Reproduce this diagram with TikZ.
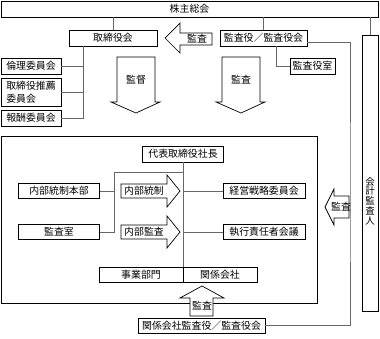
\documentclass[tikz,border=0pt]{standalone}
\usepackage{fontspec}
\setmainfont{Noto Sans CJK JP}
\usepackage{tikz}
\usetikzlibrary{shadows}

\begin{document}
\begin{tikzpicture}[x=1pt,y=-1pt,font=\fontsize{9.9pt}{11pt}\selectfont]

\tikzstyle{box} = [rectangle, draw=black, fill=white, line width=0.7pt, inner sep=0pt, minimum height=16pt, text centered, drop shadow={shadow xshift=0.9pt, shadow yshift=-0.9pt, fill=black, opacity=1}]
\tikzstyle{conn} = [draw=gray!80!black, line width=0.7pt]
\tikzstyle{bigarrow} = [draw=black, fill=white, line width=0.7pt, line join=miter]

\useasboundingbox (0,0) rectangle (380,338);

\node (frame) [box, minimum width=316pt, minimum height=167pt] at (159,219.5) {};

% top part
\node (soukai) [box, minimum width=377pt] at (189.5,9) {株主総会};
\node (torishimari) [box, minimum width=88pt] at (113,38) {取締役会};
\node (kansayaku) [box, minimum width=87pt] at (263.5,38) {監査役／監査役会};
\node (kansayakushitsu) [box, minimum width=45pt] at (312.5,66) {監査役室};
\node (rinri) [box, minimum width=60pt] at (31,66) {倫理委員会};
\node (suisen) [box, minimum width=60pt, minimum height=28pt, align=left, font=\fontsize{9.9pt}{13.5pt}\selectfont] at (31,92) {取締役推薦\\委員会};
\node (housyu) [box, minimum width=60pt] at (31,118) {報酬委員会};
\node (kaikei) [box, minimum width=16pt, minimum height=276pt] at (370,173) {};
\node (kaikeilabel) [align=center, inner sep=0pt, font=\fontsize{9.5pt}{9.8pt}\selectfont] at (370,201) {会\\計\\監\\査\\人};

% inside the frame
\node (daihyo) [box, minimum width=81pt] at (183,154) {代表取締役社長};
\node (naibu) [box, minimum width=81pt, minimum height=15pt] at (59,191) {内部統制本部};
\node (kansashitsu) [box, minimum width=81pt, minimum height=15pt] at (59,232) {監査室};
\node (keiei) [box, minimum width=82pt, minimum height=15pt] at (264,191) {経営戦略委員会};
\node (shikko) [box, minimum width=82pt, minimum height=15pt] at (264,232) {執行責任者会議};
\node (jigyo) [box, minimum width=84pt, minimum height=15pt] at (141,274.5) {事業部門};
\node (kankei) [box, minimum width=74pt, minimum height=15pt] at (220,274.5) {関係会社};
\node (kgkansa) [box, minimum width=127pt, minimum height=15pt] at (201.5,325.5) {関係会社監査役／監査役会};

% connectors
\coordinate (tbus) at ([xshift=-30pt]torishimari.south);
\coordinate (kbus) at ([xshift=12.5pt]kansayaku.south);
\coordinate (kline) at (350,200);
\coordinate (lbus) at (114,172);

\draw [conn] (torishimari.north |- soukai.south) -- (torishimari.north);
\draw [conn] (kansayaku.north |- soukai.south) -- (kansayaku.north);
\draw [conn] (kaikei.north |- soukai.south) -- (kaikei.north);
\draw [conn] (tbus) |- (housyu.east);
\draw [conn] (rinri.east) -| (tbus);
\draw [conn] (suisen.east) -| (tbus);
\draw [conn] (kbus) |- (kansayakushitsu.west);
\draw [conn] ([yshift=-4pt]kansayaku.east) -| (kline) |- (kgkansa.east);
\draw [conn] (daihyo.south) -- (daihyo.south |- kankei.north west);
\draw [conn] (daihyo.south |- lbus) -- (lbus) |- (kansashitsu.east);
\draw [conn] (naibu.east) -- (naibu.east -| lbus);
\draw [conn] (daihyo.south |- keiei.west) -- (keiei.west);
\draw [conn] (daihyo.south |- shikko.west) -- (shikko.west);

% block arrows
\draw [bigarrow] (212,33) -- (180,33) -- (180,23) -- (165,38) -- (180,53) -- (180,45) -- (212,45) -- cycle;
\node (kansa1) at (197,39) {監査};
\draw [bigarrow] (117,57) -- (155,57) -- (155,102) -- (160,102) -- (136,113) -- (111,102) -- (117,102) -- cycle;
\node (kantoku) at (136,80) {監督};
\draw [bigarrow] (222,57) -- (260,57) -- (260,102) -- (265,102) -- (241,113) -- (216,102) -- (222,102) -- cycle;
\node (kansa2) at (241,80) {監査};
\draw [bigarrow] (121,184) -- (167,184) -- (167,175) -- (180,191) -- (167,207) -- (167,198) -- (121,198) -- cycle;
\node (naibutousei) at (144,191) {内部統制};
\draw [bigarrow] (121,225) -- (167,225) -- (167,216) -- (180,232) -- (167,248) -- (167,239) -- (121,239) -- cycle;
\node (naibukansa) at (144,232) {内部監査};
\draw [bigarrow] (349,196) -- (334,196) -- (334,189) -- (325,207) -- (334,225) -- (334,218) -- (349,218) -- cycle;
\node (kansa3) at (341,207) {監査};
\draw [bigarrow] (190,316) -- (190,298) -- (180,298) -- (202,286) -- (224,298) -- (213,298) -- (213,316) -- cycle;
\node (kansa4) at (202,306) {監査};

\end{tikzpicture}
\end{document}
